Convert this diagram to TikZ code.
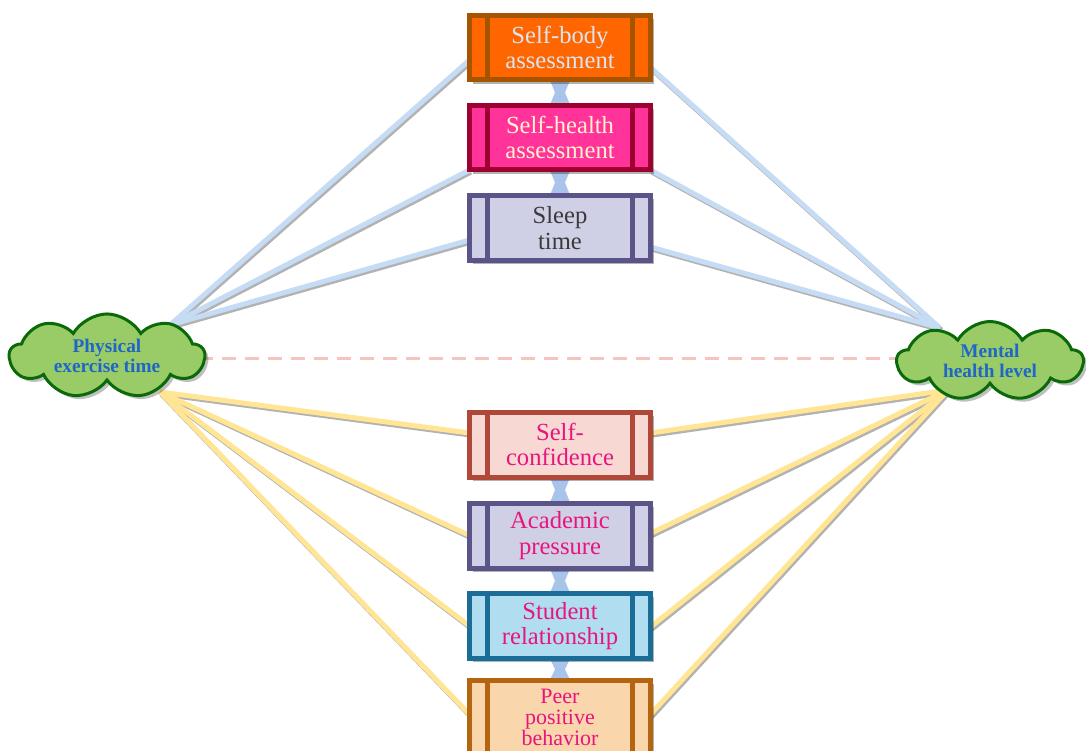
\documentclass[tikz,border=0pt]{standalone}
\usepackage{fontspec}
\setmainfont{Liberation Serif}
\usetikzlibrary{shapes.symbols,shadows,calc}

\definecolor{sbfill}{HTML}{FF6600}
\definecolor{sbline}{HTML}{A65400}
\definecolor{sbtext}{HTML}{DCE6F2}
\definecolor{shfill}{HTML}{FF3399}
\definecolor{shline}{HTML}{9E0030}
\definecolor{shtext}{HTML}{FFF2CC}
\definecolor{stfill}{HTML}{CFCFE6}
\definecolor{stline}{HTML}{5B5488}
\definecolor{sttext}{HTML}{3A3A3A}
\definecolor{scfill}{HTML}{F8D8D3}
\definecolor{scline}{HTML}{B0483A}
\definecolor{srfill}{HTML}{B0DDEF}
\definecolor{srline}{HTML}{1A6D96}
\definecolor{ppfill}{HTML}{FAD6AC}
\definecolor{ppline}{HTML}{B5640F}
\definecolor{lowtext}{HTML}{E8157F}
\definecolor{cloudfill}{HTML}{99CC66}
\definecolor{cloudline}{HTML}{0A6A0A}
\definecolor{cloudtext}{HTML}{1F66C8}
\definecolor{bluelink}{HTML}{C6DCF4}
\definecolor{yellowlink}{HTML}{FFE594}
\definecolor{vlinkcol}{HTML}{A9C4EB}
\definecolor{dashcol}{HTML}{F4C5C0}

\pgfdeclarelayer{background}
\pgfsetlayers{background,main}

\tikzset{
  factor/.style={rectangle, draw, line width=0.1cm, outer sep=0pt,
    minimum width=3.62cm, minimum height=1.3cm, align=center,
    font=\fontsize{14}{14.5}\selectfont,
    drop shadow={shadow xshift=2pt, shadow yshift=-2pt, fill=black, opacity=0.3}},
  blob/.style={cloud, cloud puffs=9, cloud puff arc=120, aspect=2.6,
    draw=cloudline, fill=cloudfill, line width=0.06cm, text=cloudtext,
    align=center, inner sep=0pt, font=\fontsize{11}{11}\selectfont\bfseries,
    drop shadow={shadow xshift=2pt, shadow yshift=-2pt, fill=black, opacity=0.25}},
  link/.style={line width=0.1cm, #1,
    preaction={draw=black!30, line width=0.1cm,
      transform canvas={xshift=0.8pt, yshift=-1.2pt}}}
}

\begin{document}
\begin{tikzpicture}[x=0.02cm, y=-0.02cm]

  \useasboundingbox (0,0) rectangle (1086,751);

  % Clouds
  \node[blob, minimum width=3.9cm, minimum height=1.56cm] (pe) at (107,356) {Physical\\exercise time};
  \node[blob, minimum width=3.72cm, minimum height=1.58cm] (mh) at (990,361) {Mental\\health level};

  % Upper factors
  \node[factor, fill=sbfill, draw=sbline, text=sbtext] (sb) at (560,47.5) {Self-body\\assessment};
  \node[factor, fill=shfill, draw=shline, text=shtext] (sh) at (560,137.5) {Self-health\\assessment};
  \node[factor, fill=stfill, draw=stline, text=sttext] (st) at (560,228) {Sleep\\time};

  % Lower factors
  \node[factor, fill=scfill, draw=scline, text=lowtext] (sc) at (560,444.5) {Self-\\confidence};
  \node[factor, fill=stfill, draw=stline, text=lowtext] (ap) at (560,535.5) {Academic\\pressure};
  \node[factor, fill=srfill, draw=srline, text=lowtext] (sr) at (560,626) {Student\\relationship};
  \node[factor, fill=ppfill, draw=ppline, text=lowtext, minimum height=1.5cm,
    font=\fontsize{12.5}{12}\selectfont] (pp) at (560,717.5) {Peer\\positive\\behavior};

  % side bars of the boxes
  \foreach \n/\c in {sb/sbline, sh/shline, st/stline, sc/scline, ap/stline, sr/srline, pp/ppline}
  {
    \draw[line width=0.1cm, \c] ([xshift=0.36cm]\n.north west) -- ([xshift=0.36cm]\n.south west);
    \draw[line width=0.1cm, \c] ([xshift=-0.36cm]\n.north east) -- ([xshift=-0.36cm]\n.south east);
  }

  % meeting points on the clouds
  \coordinate (peTop) at ($(pe)+(63,-31)$);
  \coordinate (peBot) at ($(pe)+(53,36)$);
  \coordinate (mhTop) at ($(mh)+(-50,-33)$);
  \coordinate (mhBot) at ($(mh)+(-42,29)$);
  \coordinate (dashA) at ($(pe.east)+(-8,2)$);
  \coordinate (dashB) at (dashA -| mh.west);

  \begin{pgfonlayer}{background}
    % blue links
    \draw[link=bluelink] (peTop) -- ($(sb.west)+(0,12.5)$);
    \draw[link=bluelink] (peTop) -- (sh.south west);
    \draw[link=bluelink] (peTop) -- ($(st.west)+(0,12)$);
    \draw[link=bluelink] ($(sb.east)+(0,20)$) -- (mhTop);
    \draw[link=bluelink] (sh.south east) -- (mhTop);
    \draw[link=bluelink] ($(st.east)+(0,19)$) -- (mhTop);

    % yellow links
    \draw[link=yellowlink] (peBot) -- ($(sc.west)+(0,-11.5)$);
    \draw[link=yellowlink] (peBot) -- (ap.west);
    \draw[link=yellowlink] (peBot) -- (sr.west);
    \draw[link=yellowlink] (peBot) -- ($(pp.west)+(0,-3)$);
    \draw[link=yellowlink] ($(sc.east)+(0,-11.5)$) -- (mhBot);
    \draw[link=yellowlink] ($(ap.east)+(0,-2)$) -- (mhBot);
    \draw[link=yellowlink] ($(sr.east)+(0,1)$) -- (mhBot);
    \draw[link=yellowlink] ($(pp.east)+(0,-3)$) -- (mhBot);

    % direct effect
    \draw[dashcol, line width=0.06cm, dash pattern=on 0.28cm off 0.18cm] (dashA) -- (dashB);

    % links between boxes (hourglass)
    \foreach \a/\b in {sb/sh, sh/st, sc/ap, ap/sr, sr/pp}
      \fill[vlinkcol] ($(\a.south)+(-11,-2)$) -- ($(\a.south)+(11,-2)$)
        -- ($(\a.south)!0.5!(\b.north)+(5,0)$) -- ($(\b.north)+(11,2)$)
        -- ($(\b.north)+(-11,2)$) -- ($(\a.south)!0.5!(\b.north)+(-5,0)$) -- cycle;
  \end{pgfonlayer}

\end{tikzpicture}
\end{document}
